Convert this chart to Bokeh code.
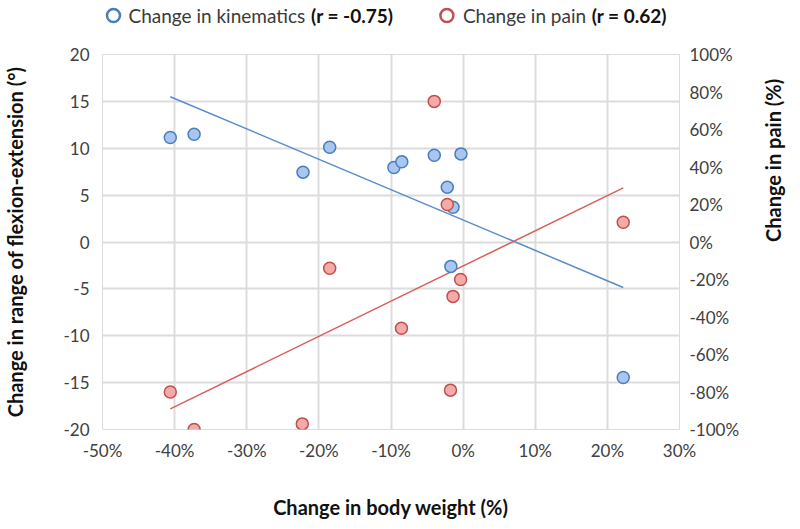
import math
from bokeh.plotting import figure
from bokeh.layouts import column
from bokeh.models import (Range1d, LinearAxis, SingleIntervalTicker, PrintfTickFormatter)
from bokeh.core.properties import value
from bokeh.embed import file_html
from bokeh.resources import INLINE

# ---- data ----
weight_kin = [-40.6, -37.3, -22.2, -18.5, -9.6, -8.5, -4.0, -0.3, -2.2, -1.4, -1.7, 22.2]
kinematics = [11.15, 11.5, 7.45, 10.1, 7.95, 8.55, 9.25, 9.4, 5.85, 3.7, -2.6, -14.45]

weight_pain = [-40.6, -37.3, -22.3, -18.5, -8.55, -4.0, -2.2, -1.4, -1.75, -0.35, 22.2]
pain = [-80, -100, -97, -14, -46, 75, 20, -29, -79, -20, 10.5]

trend_x = [-40.6, 22.2]
kin_trend = [15.5, -4.85]
pain_trend = [-89, 28.9]

series_names = ["Change in kinematics", "Change in pain"]
series_r = ["(r =  -0.75)", "(r =  0.62)"]
x_title = "Change in body weight (%)"
y_title = "Change in range of flexion-extension (°)"
y2_title = "Change in pain (%)"

FONT = "Lato"
GRID = "#dcdcdc"
BLUE_LINE = "#5b8bcb"
RED_LINE = "#d9605a"
BLUE_EDGE = "#4a7ebb"
RED_EDGE = "#c0504d"

W = 800
TOTAL_H = 521
LEG_H = 30
FRAME_L, FRAME_R = 101, 679   # plot-area edges in page pixels
FRAME_T, FRAME_B = 54, 430

# ---------------- legend strip (its frame is aligned with the chart frame) ----------------
leg = figure(width=W, height=LEG_H, output_backend="svg", toolbar_location=None,
             x_range=Range1d(FRAME_L, FRAME_R), y_range=Range1d(0, LEG_H),
             x_axis_location=None, y_axis_location=None,
             min_border_left=FRAME_L, min_border_right=W - FRAME_R,
             min_border_top=0, min_border_bottom=0)
leg.grid.visible = False
leg.outline_line_color = None

ring_x = [112, 446]          # layout positions of the legend rings (page px)
name_x = [127, 462]          # where the plain text starts
r_end_x = [397, 671]         # where the bold part ends
mid = [LEG_H / 2, LEG_H / 2]
leg.scatter(ring_x, mid, marker="circle", size=13, fill_color="white",
            line_color=[BLUE_EDGE, RED_EDGE], line_width=2.5)
leg.text(name_x, mid, text=series_names, text_font=value(FONT), text_font_size="19px",
         text_color="#3a3a3a", text_align="left", text_baseline="middle")
leg.text(r_end_x, mid, text=series_r, text_font=value(FONT), text_font_size="19px",
         text_font_style="bold", text_color="#111111", text_align="right",
         text_baseline="middle")

# ---------------- main chart ----------------
p = figure(width=W, height=TOTAL_H - LEG_H, output_backend="svg", toolbar_location=None,
           x_range=Range1d(-50, 30), y_range=Range1d(-20, 20),
           min_border_left=FRAME_L, min_border_right=W - FRAME_R,
           min_border_top=FRAME_T - LEG_H, min_border_bottom=TOTAL_H - FRAME_B)
p.extra_y_ranges = {"pain": Range1d(-100, 100)}
p.outline_line_color = GRID
p.outline_line_width = 1

right_axis = LinearAxis(y_range_name="pain")
p.add_layout(right_axis, "right")

for ax in [p.xaxis[0], p.yaxis[0], right_axis]:
    ax.axis_line_color = None
    ax.major_tick_line_color = None
    ax.minor_tick_line_color = None
    ax.major_tick_out = 0
    ax.major_tick_in = 0
    ax.minor_tick_out = 0
    ax.minor_tick_in = 0
    ax.major_label_text_font = FONT
    ax.major_label_text_font_size = "17px"
    ax.major_label_text_color = "#404040"
    ax.axis_label_text_font = FONT
    ax.axis_label_text_font_size = "20px"
    ax.axis_label_text_font_style = "bold"
    ax.axis_label_text_color = "#111111"

p.xaxis.ticker = SingleIntervalTicker(interval=10)
p.xaxis.formatter = PrintfTickFormatter(format="%d%%")
p.xaxis.axis_label = x_title
p.xaxis.major_label_standoff = 10
p.xaxis.axis_label_standoff = 31

p.yaxis[0].ticker = SingleIntervalTicker(interval=5)
p.yaxis[0].formatter = PrintfTickFormatter(format="%d")
p.yaxis[0].axis_label = y_title
p.yaxis[0].major_label_standoff = 13
p.yaxis[0].axis_label_standoff = 33

right_axis.ticker = SingleIntervalTicker(interval=20)
right_axis.formatter = PrintfTickFormatter(format="%d%%")
right_axis.axis_label = y2_title
right_axis.major_label_standoff = 10
right_axis.axis_label_standoff = 31
right_axis.axis_label_orientation = math.pi / 2

p.xgrid.grid_line_color = GRID
p.xgrid.grid_line_width = 2
p.ygrid.grid_line_color = GRID
p.ygrid.grid_line_width = 2

# trend lines
p.line(trend_x, kin_trend, line_color=BLUE_LINE, line_width=1.5)
p.line(trend_x, pain_trend, line_color=RED_LINE, line_width=1.5, y_range_name="pain")

# points
p.scatter(weight_kin, kinematics, size=12, marker="circle",
          fill_color="#a9c6f0", line_color=BLUE_EDGE, line_width=1.5)
p.scatter(weight_pain, pain, size=12, marker="circle", y_range_name="pain",
          fill_color="#f5aaaa", line_color=RED_EDGE, line_width=1.5)

layout = column(leg, p, spacing=0)
open("out.html", "w").write(file_html(layout, INLINE))
